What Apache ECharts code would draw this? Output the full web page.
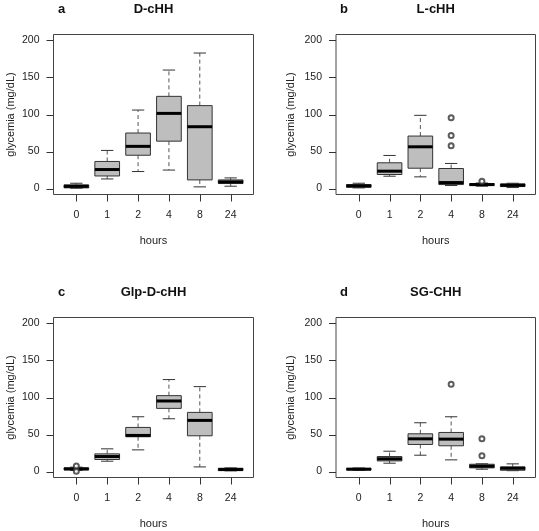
<!DOCTYPE html>
<html>
<head>
<meta charset="utf-8">
<script src="https://cdn.jsdelivr.net/npm/echarts@6/dist/echarts.min.js"></script>
<style>
html,body{margin:0;padding:0;background:#fff;}
#c{width:539px;height:531px;}
</style>
</head>
<body>
<div id="c"></div>
<script>
// ---- data ----
const hours = ['0', '1', '2', '4', '8', '24'];
const yTicks = [0, 50, 100, 150, 200];
const panelLetters = ['a', 'b', 'c', 'd'];
const panelTitles = ['D-cHH', 'L-cHH', 'Glp-D-cHH', 'SG-CHH'];

// [min, Q1, median, Q3, max] per hour
const boxDcHH = [
  [0.5, 1, 3, 5, 7.2],
  [13, 17, 25.7, 36.6, 51.5],
  [23, 45, 57, 75, 106],
  [25, 64, 101.5, 124.5, 160],
  [2.3, 11.7, 83.5, 112, 183],
  [3.2, 6.8, 9, 11.7, 14.4]
];
const boxLcHH = [
  [0.9, 1.8, 3.6, 5.4, 7.2],
  [16.7, 19, 23.5, 34.8, 44.7],
  [15.8, 27.5, 56.4, 70.9, 98.9],
  [4.1, 5.4, 8.1, 27.1, 33.9],
  [3.2, 4.1, 5.4, 6.8, 7.5],
  [1.4, 2.7, 4.5, 6.3, 7.2]
];
const boxGlpDcHH = [
  [1.5, 2.3, 3.6, 5, 6],
  [14, 16.3, 20.3, 23.9, 30.7],
  [29.3, 47, 48.8, 59.6, 74],
  [71.3, 85.3, 95.3, 102.5, 124.2],
  [6.3, 48.3, 69.1, 79.9, 114.7],
  [1, 1.4, 2.7, 4.5, 5]
];
const boxSGCHH = [
  [1.8, 2.3, 3.2, 4.3, 4.8],
  [11.3, 14.4, 17.2, 20.3, 27.5],
  [22.1, 36.6, 44.2, 51, 65.9],
  [15.8, 34.8, 43.8, 52.8, 74],
  [3.2, 5, 7.2, 9.9, 10.5],
  [1.2, 1.8, 4.5, 6.3, 10.4]
];
// outliers: [hour label, value]
const outDcHH = [];
const outLcHH = [['4', 57.8], ['4', 71.8], ['4', 95.7], ['8', 9.9]];
const outGlpDcHH = [['0', 7.5], ['0', 0.5]];
const outSGCHH = [['4', 117.8], ['8', 21.2], ['8', 44.2]];

const boxes = [boxDcHH, boxLcHH, boxGlpDcHH, boxSGCHH];
const outs = [outDcHH, outLcHH, outGlpDcHH, outSGCHH];

// ---- layout ----
// frame boxes (R plot region, with 4% axis extension)
const frames = [
  {left: 53.5, top: 34.5, width: 200, height: 160},
  {left: 336, top: 34.5, width: 199.5, height: 160},
  {left: 53.5, top: 317.5, width: 200, height: 160},
  {left: 336, top: 317.5, width: 199.5, height: 160}
];
const yNameGap = [37, 40, 37, 40];
const TICK = 7;
const FONT = 'Liberation Sans, Arial, Helvetica, sans-serif';
const ext = 0.04 / 1.08;
const dataGrids = frames.map(f => {
  const dx = f.width * ext, dy = f.height * ext;
  return {left: f.left + dx, top: f.top + dy, width: f.width - 2 * dx, height: f.height - 2 * dy, dx: dx, dy: dy};
});

function renderBox(params, api) {
  const x = api.value(0);
  const lo = api.coord([x, api.value(1)]);
  const q1 = api.coord([x, api.value(2)]);
  const md = api.coord([x, api.value(3)]);
  const q3 = api.coord([x, api.value(4)]);
  const hi = api.coord([x, api.value(5)]);
  const bw = api.size([1, 0])[0] * 0.8;
  const h = bw / 2, s = bw / 4;
  const cx = md[0];
  const whisk = {stroke: '#555', lineWidth: 1, lineDash: [4, 3]};
  const stap = {stroke: '#333', lineWidth: 1};
  return {
    type: 'group',
    children: [
      {type: 'line', shape: {x1: cx, y1: q3[1], x2: cx, y2: hi[1]}, style: whisk},
      {type: 'line', shape: {x1: cx, y1: q1[1], x2: cx, y2: lo[1]}, style: whisk},
      {type: 'line', shape: {x1: cx - s, y1: hi[1], x2: cx + s, y2: hi[1]}, style: stap},
      {type: 'line', shape: {x1: cx - s, y1: lo[1], x2: cx + s, y2: lo[1]}, style: stap},
      {type: 'rect', shape: {x: cx - h, y: q3[1], width: bw, height: q1[1] - q3[1]},
        style: {fill: '#bebebe', stroke: '#333', lineWidth: 1}},
      {type: 'line', shape: {x1: cx - h, y1: md[1], x2: cx + h, y2: md[1]},
        style: {stroke: '#000', lineWidth: 3}}
    ]
  };
}

const gridList = [].concat(
  frames.map(f => ({left: f.left, top: f.top, width: f.width, height: f.height,
    show: true, borderColor: '#444', borderWidth: 1, backgroundColor: 'transparent'})),
  dataGrids.map(g => ({left: g.left, top: g.top, width: g.width, height: g.height}))
);

const titleGraphics = [].concat(
  frames.map((g, i) => ({
    type: 'text', x: g.left + 8, y: g.top - 25.5,
    style: {text: panelLetters[i], font: 'bold 13px ' + FONT, fill: '#111', textAlign: 'center', textVerticalAlign: 'middle'}
  })),
  frames.map((g, i) => ({
    type: 'text', x: g.left + g.width / 2, y: g.top - 25.5,
    style: {text: panelTitles[i], font: 'bold 13px ' + FONT, fill: '#111', textAlign: 'center', textVerticalAlign: 'middle'}
  }))
);

const option = {
  animation: false,
  backgroundColor: '#fff',
  textStyle: {fontFamily: FONT},
  grid: gridList,
  xAxis: [].concat(
    frames.map((f, i) => ({type: 'value', gridIndex: i, show: false, min: 0, max: 1})),
    dataGrids.map((g, i) => ({
      type: 'category', gridIndex: 4 + i, data: hours, boundaryGap: true,
      offset: g.dy,
      axisLine: {show: false, onZero: false}, splitLine: {show: false},
      axisTick: {show: false},
      axisLabel: {margin: 15, fontSize: 10.5, color: '#222', fontFamily: FONT},
      name: 'hours', nameLocation: 'middle', nameGap: 41,
      nameTextStyle: {fontSize: 11, color: '#222', fontFamily: FONT}
    }))
  ),
  yAxis: [].concat(
    frames.map((f, i) => ({type: 'value', gridIndex: i, show: false, min: 0, max: 1})),
    dataGrids.map((g, i) => ({
      type: 'value', gridIndex: 4 + i, min: yTicks[0], max: yTicks[yTicks.length - 1],
      interval: yTicks[1] - yTicks[0],
      offset: g.dx,
      axisLine: {show: false, onZero: false}, splitLine: {show: false},
      axisTick: {show: false},
      axisLabel: {margin: 14, fontSize: 10.5, color: '#222', fontFamily: FONT},
      name: 'glycemia (mg/dL)', nameLocation: 'middle', nameGap: yNameGap[i],
      nameTextStyle: {fontSize: 11, color: '#222', fontFamily: FONT}
    }))
  ),
  series: [].concat(
    boxes.map((b, i) => ({
      type: 'custom', xAxisIndex: 4 + i, yAxisIndex: 4 + i,
      renderItem: renderBox, clip: false,
      encode: {x: 0, y: [1, 2, 3, 4, 5]},
      data: b.map((r, k) => [k].concat(r)),
      silent: true
    })),
    outs.map((o, i) => ({
      type: 'scatter', xAxisIndex: 4 + i, yAxisIndex: 4 + i,
      symbol: 'emptyCircle', symbolSize: 5, clip: false,
      itemStyle: {color: '#333', borderColor: '#333', borderWidth: 0.8},
      data: o.map(p => [p[0], p[1]]),
      silent: true
    }))
  ),
  graphic: titleGraphics
};

const chart = echarts.init(document.getElementById('c'), null, {renderer: 'canvas'});
chart.setOption(option);

// R-style tick marks outside each frame, positioned through the axis scales
const tickGraphics = [];
frames.forEach((f, i) => {
  const finder = {xAxisIndex: 4 + i, yAxisIndex: 4 + i};
  const yb = f.top + f.height;
  hours.forEach(h => {
    const p = chart.convertToPixel(finder, [h, yTicks[0]]);
    if (!p) return;
    const x = Math.round(p[0]) + 0.5;
    tickGraphics.push({type: 'line', z: 100, silent: true,
      shape: {x1: x, y1: yb, x2: x, y2: yb + TICK}, style: {stroke: '#333', lineWidth: 1}});
  });
  yTicks.forEach(v => {
    const p = chart.convertToPixel(finder, [hours[0], v]);
    if (!p) return;
    const y = Math.round(p[1]) + 0.5;
    tickGraphics.push({type: 'line', z: 100, silent: true,
      shape: {x1: f.left - TICK, y1: y, x2: f.left, y2: y}, style: {stroke: '#333', lineWidth: 1}});
  });
});
chart.setOption({graphic: titleGraphics.concat(tickGraphics)});
</script>
</body>
</html>
